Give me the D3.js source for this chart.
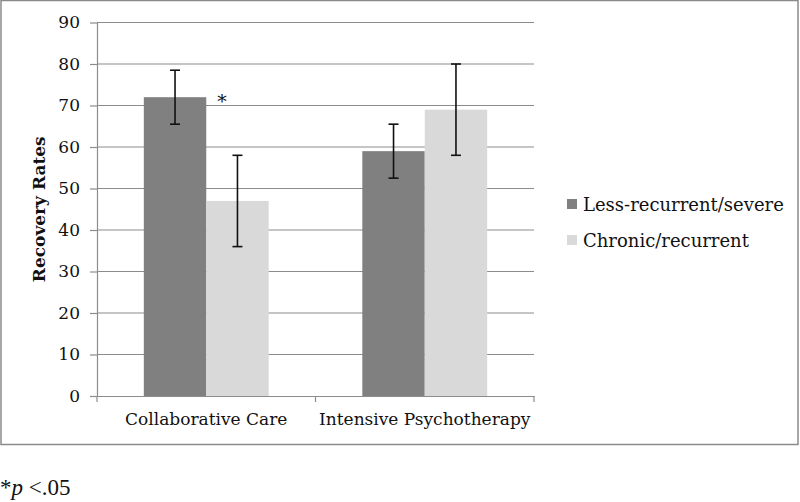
<html lang="en">
<head>
<meta charset="UTF-8">
<script src="https://d3js.org/d3.v7.min.js"></script>
<style>
  body { margin: 0; background: #fff; }
  text { font-family: "DejaVu Serif", "Liberation Serif", serif; }
</style>
</head>
<body>
<div id="chart"></div>
<script>
// data
const categories = ["Collaborative Care", "Intensive Psychotherapy"];
const series = ["Less-recurrent/severe", "Chronic/recurrent"];
const lessRecurrent = [72, 59];
const lessLow = [65.5, 52.5];
const lessHigh = [78.5, 65.5];
const chronic = [47, 69];
const chronicLow = [36, 58];
const chronicHigh = [58, 80];
const yTicks = [0, 10, 20, 30, 40, 50, 60, 70, 80, 90];
const colors = ["#808080", "#d9d9d9"];

const rows = [];
categories.forEach((c, i) => {
  rows.push({cat: c, s: series[0], v: lessRecurrent[i], lo: lessLow[i], hi: lessHigh[i]});
  rows.push({cat: c, s: series[1], v: chronic[i], lo: chronicLow[i], hi: chronicHigh[i]});
});

const svg = d3.select("#chart").append("svg")
  .attr("width", 800)
  .attr("height", 502);

// outer frame
svg.append("rect")
  .attr("x", 1).attr("y", 0.5)
  .attr("width", 797).attr("height", 444)
  .attr("fill", "none")
  .attr("stroke", "#8a8a8a")
  .attr("stroke-width", 1.5);

const plotLeft = 97, plotRight = 534, plotTop = 22.5, plotBottom = 396;

const y = d3.scaleLinear().domain([0, 90]).range([plotBottom, plotTop]);
const x0 = d3.scaleBand().domain(categories).range([plotLeft, plotRight]);
const x1 = d3.scaleBand().domain(series).range([0, x0.bandwidth()]).paddingOuter(0.75);
const color = d3.scaleOrdinal().domain(series).range(colors);

// gridlines
svg.append("g")
  .selectAll("line")
  .data(yTicks.slice(1))
  .join("line")
  .attr("x1", plotLeft).attr("x2", plotRight)
  .attr("y1", d => y(d)).attr("y2", d => y(d))
  .attr("stroke", "#8c8c8c")
  .attr("stroke-width", 1.2);

// y axis
const yAxis = svg.append("g")
  .attr("transform", `translate(${plotLeft},0)`)
  .call(d3.axisLeft(y).tickValues(yTicks).tickSize(7).tickSizeOuter(0).tickPadding(10));
yAxis.select(".domain").attr("stroke", "#8c8c8c").attr("stroke-width", 1.2);
yAxis.selectAll(".tick line").attr("stroke", "#8c8c8c").attr("stroke-width", 1.2);
yAxis.selectAll(".tick text")
  .attr("font-size", 17)
  .attr("fill", "#111")
  .style("font-family", "DejaVu Serif, serif");

// bars
svg.append("g")
  .selectAll("rect")
  .data(rows)
  .join("rect")
  .attr("x", d => x0(d.cat) + x1(d.s))
  .attr("y", d => y(d.v))
  .attr("width", x1.bandwidth())
  .attr("height", d => y(0) - y(d.v))
  .attr("fill", d => color(d.s));

// x axis
const xAxis = svg.append("g")
  .attr("transform", `translate(0,${plotBottom})`)
  .call(d3.axisBottom(x0).tickSize(0).tickPadding(17));
xAxis.select(".domain").attr("stroke", "#8c8c8c").attr("stroke-width", 1.2);
xAxis.selectAll(".tick text")
  .attr("font-size", 17)
  .attr("fill", "#111")
  .style("font-family", "DejaVu Serif, serif");
xAxis.append("g")
  .selectAll("line")
  .data([plotLeft, x0(categories[1]), plotRight])
  .join("line")
  .attr("x1", d => d).attr("x2", d => d)
  .attr("y1", 0).attr("y2", 6)
  .attr("stroke", "#8c8c8c")
  .attr("stroke-width", 1.2);

// error bars
const err = svg.append("g").attr("stroke", "#111").attr("stroke-width", 1.6);
rows.forEach(d => {
  const cx = x0(d.cat) + x1(d.s) + x1.bandwidth() / 2;
  err.append("line").attr("x1", cx).attr("x2", cx).attr("y1", y(d.lo)).attr("y2", y(d.hi));
  err.append("line").attr("x1", cx - 5).attr("x2", cx + 5).attr("y1", y(d.lo)).attr("y2", y(d.lo));
  err.append("line").attr("x1", cx - 5).attr("x2", cx + 5).attr("y1", y(d.hi)).attr("y2", y(d.hi));
});

// significance mark
svg.append("text")
  .attr("x", x0(categories[0]) + x1(series[1]) + 11)
  .attr("y", y(lessRecurrent[0]) + 11)
  .attr("font-size", 19)
  .attr("fill", "#111")
  .text("*");

// y title
svg.append("text")
  .attr("transform", `translate(45,${(plotTop + plotBottom) / 2}) rotate(-90)`)
  .attr("text-anchor", "middle")
  .attr("font-size", 17)
  .attr("font-weight", "bold")
  .attr("fill", "#111")
  .text("Recovery Rates");

// legend
const legend = svg.append("g")
  .selectAll("g")
  .data(series)
  .join("g")
  .attr("transform", (d, i) => `translate(567,${199 + i * 36})`);
legend.append("rect")
  .attr("width", 10).attr("height", 10)
  .attr("fill", d => color(d));
legend.append("text")
  .attr("x", 16).attr("y", 12)
  .attr("font-size", 18)
  .attr("fill", "#111")
  .text(d => d);

// footnote
const foot = svg.append("text")
  .attr("x", 0).attr("y", 495)
  .attr("font-size", 23)
  .attr("fill", "#111")
  .style("font-family", "Liberation Serif, serif");
foot.append("tspan").text("*");
foot.append("tspan").attr("font-style", "italic").text("p");
foot.append("tspan").text(" <.05");
</script>
</body>
</html>
